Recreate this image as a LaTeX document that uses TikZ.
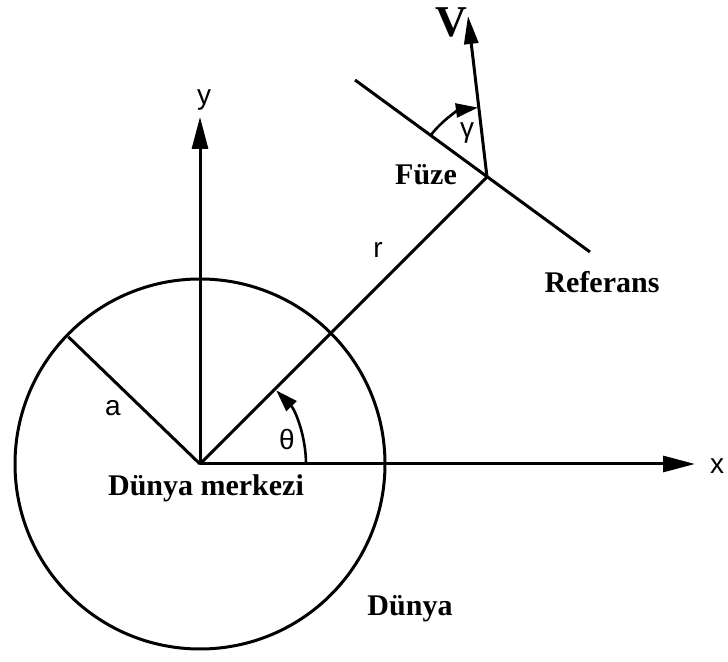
\documentclass[tikz,border=0pt]{standalone}
\usepackage{fontspec}
\setmainfont{Liberation Serif}
\setsansfont{Liberation Sans}
\usepackage{tikz}
\usetikzlibrary{arrows.meta,positioning,calc}
\tikzset{
  axis/.style={line width=1.5pt,-{Triangle[length=16pt,width=8pt]}},
  ray/.style={line width=1.5pt},
  angarc/.style={line width=1.3pt,-{Triangle[length=11pt,width=7pt]}},
  blabel/.style={font=\bfseries\fontsize{15}{18}\selectfont,inner sep=0pt},
  slabel/.style={font=\sffamily\fontsize{14}{16}\selectfont,inner sep=0pt}
}

\begin{document}
\begin{tikzpicture}[x=0.5pt,y=0.5pt]
\useasboundingbox (0,0) rectangle (728,662);
% noktalar
\coordinate (O) at (200,198);
\coordinate (xtip) at (695,198);
\coordinate (ytip) at (200,545);
\coordinate (F) at (487,485);
\coordinate (ref1) at (355,582);
\coordinate (ref2) at (590,410);
\coordinate (vtip) at (468,646);
\coordinate (A) at ($(O)+(136:183)$);
% dunya ve eksenler
\draw[ray] (O) circle[radius=185];
\draw[axis] (O) -- (xtip);
\draw[axis] (O) -- (ytip);
\draw[ray] (O) -- (A);
\draw[ray] (O) -- (F);
\draw[ray] (ref1) -- (ref2);
\draw[line width=1.5pt,-{Triangle[length=14pt,width=7pt]}] (F) -- (vtip);
% acilar
\draw[angarc] ($(O)+(0:106)$) arc[start angle=0,end angle=44,radius=106];
\draw[angarc] ($(F)+(143.8:70)$) arc[start angle=143.8,end angle=97.5,radius=70];
% etiketler
\node[slabel] (xl) at (717,196) {x};
\node[slabel] (yl) at (204,562) {y};
\node[slabel] (al) at (113,254) {a};
\node[slabel] (rl) at (378,412) {r};
\node[slabel] (thl) at (287,222) {θ};
\node[slabel] (gml) at (467,529) {γ};
\node[blabel,font=\bfseries\fontsize{22}{24}\selectfont] (vl) at (451,640) {V};
\node[blabel] (fuze) at (426,487) {Füze};
\node[blabel] (refl) at (602,380) {Referans};
\node[blabel] (merkez) at (206,174) {Dünya merkezi};
\node[blabel] (dunya) at (410,53) {Dünya};
\end{tikzpicture}
\end{document}
